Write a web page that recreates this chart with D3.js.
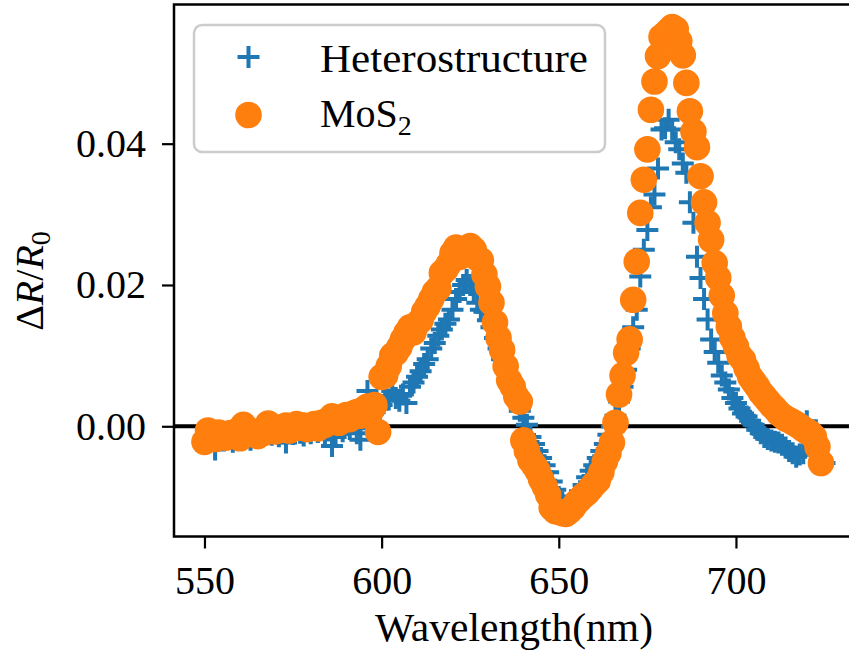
<!DOCTYPE html>
<html><head><meta charset="utf-8">
<script src="https://cdn.jsdelivr.net/npm/d3@7"></script>
<style>body{margin:0;background:#fff}svg{display:block}</style>
</head><body>
<svg id="c" width="849" height="662"></svg>
<script>
// ---------- data ----------
const wavelength = [
550,551,552,553,554,555,556,557,558,559,560,561,562,563,564,565,566,567,568,569,
570,571,572,573,574,575,576,577,578,579,580,581,582,583,584,585,586,587,588,589,
590,591,592,593,594,595,596,597,598,599,600,601,602,603,604,605,606,607,608,609,
610,611,612,613,614,615,616,617,618,619,620,621,622,623,624,625,626,627,628,629,
630,631,632,633,634,635,636,637,638,639,640,641,642,643,644,645,646,647,648,649,
650,651,652,653,654,655,656,657,658,659,660,661,662,663,664,665,666,667,668,669,
670,671,672,673,674,675,676,677,678,679,680,681,682,683,684,685,686,687,688,689,
690,691,692,693,694,695,696,697,698,699,700,701,702,703,704,705,706,707,708,709,
710,711,712,713,714,715,716,717,718,719,720,721,722,723,724,725];

const heterostructure = [
-0.0014,-0.0008,-0.0020,-0.0033,-0.0012,-0.0018,-0.0010,-0.0015,-0.0022,-0.0012,
-0.0016,-0.0009,-0.0013,-0.0019,-0.0011,-0.0007,-0.0015,-0.0010,-0.0005,-0.0012,
-0.0008,-0.0014,-0.0010,-0.0023,-0.0006,-0.0011,-0.0004,-0.0009,-0.0013,-0.0005,
-0.0010,-0.0003,-0.0008,-0.0002,-0.0012,-0.0006,-0.0028,-0.0015,0.0000,-0.0007,
0.0002,-0.0004,0.0005,-0.0010,-0.0019,0.0010,0.0050,0.0012,0.0020,0.0025,
0.0030,0.0042,0.0038,0.0050,0.0040,0.0036,0.0045,0.0033,0.0056,0.0062,
0.0070,0.0078,0.0088,0.0095,0.0110,0.0118,0.0128,0.0137,0.0145,0.0151,
0.0165,0.0180,0.0190,0.0200,0.0207,0.0200,0.0190,0.0175,0.0165,0.0162,
0.0150,0.0140,0.0125,0.0110,0.0095,0.0080,0.0065,0.0050,0.0035,0.0022,
0.0012,0.0002,-0.0015,-0.0025,-0.0035,-0.0045,-0.0055,-0.0065,-0.0078,-0.0090,
-0.0100,-0.0108,-0.0112,-0.0112,-0.0106,-0.0100,-0.0092,-0.0083,-0.0072,-0.0063,
-0.0055,-0.0045,-0.0035,-0.0025,-0.0012,0.0000,0.0015,0.0035,0.0056,0.0080,
0.0110,0.0140,0.0165,0.0212,0.0250,0.0278,0.0310,0.0328,0.0365,0.0420,
0.0422,0.0434,0.0420,0.0402,0.0392,0.0372,0.0359,0.0317,0.0288,0.0240,
0.0210,0.0180,0.0151,0.0123,0.0105,0.0090,0.0072,0.0062,0.0052,0.0040,
0.0033,0.0025,0.0018,0.0014,0.0008,0.0002,-0.0005,-0.0010,-0.0015,-0.0018,
-0.0020,-0.0022,-0.0023,-0.0026,-0.0030,-0.0035,-0.0038,-0.0043,-0.0040,-0.0038,
0.0007,-0.0020,-0.0035,-0.0040,-0.0045,-0.0052];

const mos2 = [
-0.0022,-0.0006,-0.0014,-0.0018,-0.0009,-0.0012,-0.0016,-0.0010,-0.0013,-0.0007,
-0.0017,0.0002,-0.0004,-0.0011,-0.0008,-0.0014,-0.0006,-0.0009,0.0004,-0.0003,
-0.0007,-0.0002,-0.0005,0.0001,-0.0006,-0.0001,0.0003,-0.0002,0.0001,-0.0004,
0.0000,0.0003,-0.0003,0.0005,0.0002,0.0009,0.0014,0.0007,0.0005,0.0011,
0.0016,0.0010,0.0018,0.0020,0.0015,0.0024,0.0028,0.0022,0.0030,-0.0008,
0.0070,0.0072,0.0085,0.0100,0.0104,0.0112,0.0123,0.0132,0.0140,0.0133,
0.0145,0.0150,0.0162,0.0170,0.0180,0.0190,0.0195,0.0217,0.0222,0.0230,
0.0245,0.0253,0.0240,0.0248,0.0252,0.0255,0.0250,0.0238,0.0235,0.0215,
0.0198,0.0175,0.0147,0.0125,0.0108,0.0085,0.0065,0.0056,0.0042,0.0035,
-0.0020,-0.0035,-0.0048,-0.0055,-0.0063,-0.0075,-0.0085,-0.0097,-0.0115,-0.0120,
-0.0121,-0.0123,-0.0124,-0.0120,-0.0115,-0.0108,-0.0103,-0.0098,-0.0094,-0.0088,
-0.0082,-0.0077,-0.0065,-0.0050,-0.0038,-0.0023,0.0005,0.0045,0.0072,0.0104,
0.0123,0.0179,0.0233,0.0302,0.0349,0.0392,0.0448,0.0488,0.0524,0.0551,
0.0555,0.0560,0.0565,0.0562,0.0545,0.0525,0.0486,0.0446,0.0417,0.0395,
0.0354,0.0317,0.0288,0.0264,0.0231,0.0210,0.0185,0.0160,0.0141,0.0125,
0.0113,0.0100,0.0094,0.0082,0.0070,0.0063,0.0056,0.0048,0.0042,0.0036,
0.0030,0.0025,0.0019,0.0015,0.0011,0.0009,0.0006,0.0003,0.0000,-0.0004,
-0.0007,-0.0010,-0.0015,-0.0029,-0.0052];

const xTicks = [550, 600, 650, 700];
const yTicks = [0.00, 0.02, 0.04];
const xTickLabels = ["550", "600", "650", "700"];
const yTickLabels = ["0.00", "0.02", "0.04"];
const seriesNames = ["Heterostructure", "MoS"];

// ---------- drawing ----------
const FONT = "'Liberation Serif','DejaVu Serif',serif";
const svg = d3.select("#c");
const L = 174, T = 4.5, B = 536.5, R = 863.5;
const x = d3.scaleLinear().domain([541.4, 736]).range([L, R]);
const y = d3.scaleLinear().domain([-0.0156, 0.0597]).range([B, T]);
const BLUE = "#1f77b4", ORANGE = "#ff7f0e";

svg.append("defs").append("clipPath").attr("id", "clip")
  .append("rect").attr("x", L).attr("y", T).attr("width", R - L).attr("height", B - T);

const plot = svg.append("g").attr("clip-path", "url(#clip)");

// zero line
plot.append("line").attr("x1", L).attr("x2", R).attr("y1", y(0)).attr("y2", y(0))
  .attr("stroke", "#000").attr("stroke-width", 4);

const het = heterostructure.map((v, i) => ({w: wavelength[i], v}));
const mo = mos2.map((v, i) => ({w: wavelength[i], v}));

const PS = 11;
plot.append("g").selectAll("path").data(het).join("path")
  .attr("transform", d => `translate(${x(d.w)},${y(d.v)})`)
  .attr("d", `M${-PS},0H${PS}M0,${-PS}V${PS}`)
  .attr("stroke", BLUE).attr("stroke-width", 4).attr("fill", "none");

plot.append("g").selectAll("circle").data(mo).join("circle")
  .attr("cx", d => x(d.w)).attr("cy", d => y(d.v)).attr("r", 13.3)
  .attr("fill", ORANGE);

// axes
const xAxis = d3.axisBottom(x).tickValues(xTicks).tickSize(12).tickPadding(17)
  .tickFormat((d, i) => xTickLabels[i]);
const gx = svg.append("g").attr("transform", `translate(0,${B})`).call(xAxis);
const yAxis = d3.axisLeft(y).tickValues(yTicks).tickSize(12).tickPadding(16)
  .tickFormat((d, i) => yTickLabels[i]);
const gy = svg.append("g").attr("transform", `translate(${L},0)`).call(yAxis);
[gx, gy].forEach(g => {
  g.select(".domain").remove();
  g.selectAll(".tick line").attr("stroke", "#000").attr("stroke-width", 2.2);
  g.selectAll(".tick text").attr("fill", "#000").style("font-family", FONT).style("font-size", "40px");
});

// frame
svg.append("rect").attr("x", L).attr("y", T).attr("width", R - L).attr("height", B - T)
  .attr("fill", "none").attr("stroke", "#000").attr("stroke-width", 2.5);

// x label
svg.append("text").attr("x", 514).attr("y", 641).attr("text-anchor", "middle")
  .style("font-family", FONT).style("font-size", "40px")
  .attr("textLength", 278).attr("lengthAdjust", "spacingAndGlyphs")
  .text("Wavelength(nm)");

// y label
const yl = svg.append("text").attr("transform", "translate(43,281) rotate(-90)")
  .attr("text-anchor", "middle").style("font-family", FONT).style("font-size", "40px");
yl.append("tspan").text("Δ");
yl.append("tspan").style("font-style", "italic").text("R");
yl.append("tspan").text("/");
yl.append("tspan").style("font-style", "italic").text("R");
yl.append("tspan").attr("dy", 7).style("font-size", "28px").text("0");

// legend
const lg = svg.append("g");
lg.append("rect").attr("x", 194).attr("y", 25).attr("width", 411).attr("height", 127)
  .attr("rx", 8).attr("fill", "#fff").attr("fill-opacity", 0.8)
  .attr("stroke", "#cccccc").attr("stroke-width", 2.5);
lg.append("path").attr("transform", "translate(248.5,57)")
  .attr("d", `M${-PS},0H${PS}M0,${-PS}V${PS}`)
  .attr("stroke", BLUE).attr("stroke-width", 4).attr("fill", "none");
lg.append("circle").attr("cx", 248.5).attr("cy", 115).attr("r", 13.3).attr("fill", ORANGE);
lg.append("text").attr("x", 320).attr("y", 72).style("font-family", FONT).style("font-size", "40px")
  .attr("textLength", 268).attr("lengthAdjust", "spacingAndGlyphs").text(seriesNames[0]);
const t2 = lg.append("text").attr("x", 320).attr("y", 127).style("font-family", FONT).style("font-size", "40px");
t2.append("tspan").text(seriesNames[1]);
t2.append("tspan").attr("dy", 8).style("font-size", "28px").text("2");
</script>
</body></html>
